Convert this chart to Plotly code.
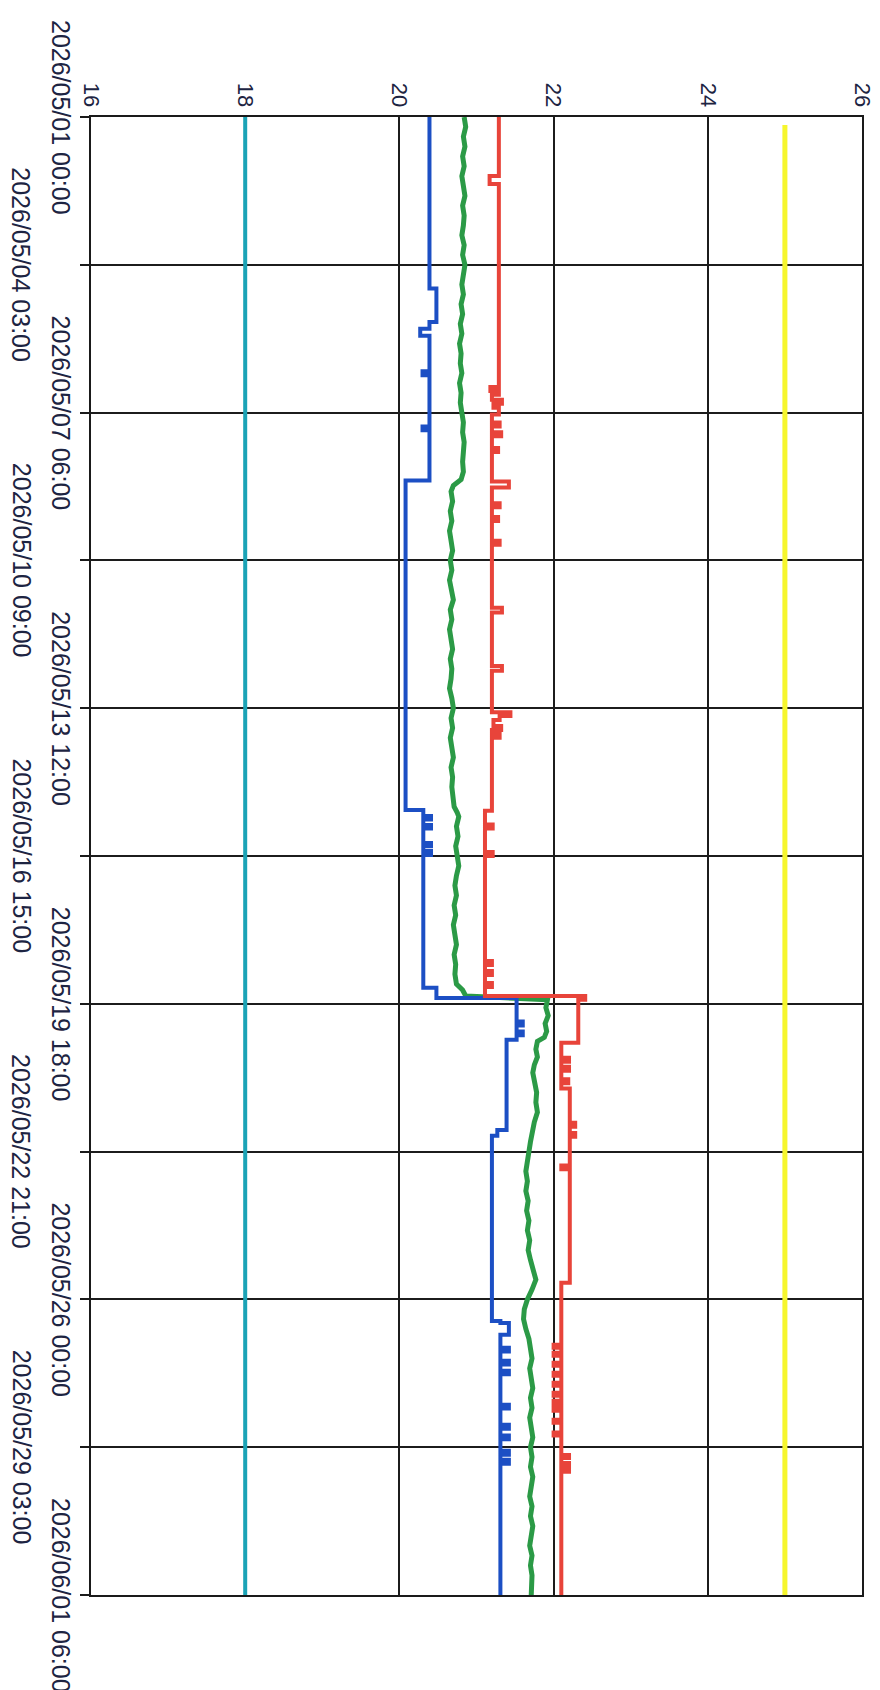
import pandas as pd
import plotly.graph_objects as go

START = "2026-05-01 00:00"

# time axis ticks (hours from start) and their labels
tick_hours = [0, 75, 150, 225, 300, 375, 450, 525, 600, 675, 750]
tick_labels = ["2026/05/01 00:00", "2026/05/04 03:00", "2026/05/07 06:00",
               "2026/05/10 09:00", "2026/05/13 12:00", "2026/05/16 15:00",
               "2026/05/19 18:00", "2026/05/22 21:00", "2026/05/26 00:00",
               "2026/05/29 03:00", "2026/06/01 06:00"]
value_ticks = [16, 18, 20, 22, 24, 26]

# constant series
cyan_h = [0, 750]
cyan_v = [18.0, 18.0]
yellow_h = [4, 750]
yellow_v = [25.0, 25.0]

# blue (stepped)
blue_h = [0, 87, 104, 107.5, 111, 129, 131, 157, 159, 184.4, 351.7, 354.7, 356.5,
          359.3, 361, 368.4, 370, 372.5, 374.5, 441.9, 447, 459, 461, 464, 466,
          468.3, 514, 517, 610.9, 612, 618, 624.5, 626.5, 631.1, 633, 636.2, 638,
          653.4, 655.4, 663.6, 665.6, 669.1, 671, 676.8, 678.8, 681.4, 683.4, 750]
blue_v = [20.39, 20.48, 20.39, 20.27, 20.39, 20.30, 20.39, 20.30, 20.39, 20.08,
          20.31, 20.41, 20.31, 20.41, 20.31, 20.41, 20.31, 20.41, 20.31, 20.48,
          21.52, 21.60, 21.52, 21.60, 21.52, 21.39, 21.27, 21.20, 21.31, 21.42,
          21.31, 21.42, 21.31, 21.42, 21.31, 21.42, 21.31, 21.42, 21.31, 21.42,
          21.31, 21.42, 21.31, 21.42, 21.31, 21.42, 21.31, 21.31]

# red (stepped)
red_h = [0, 30, 34, 137, 139, 141, 143.5, 145.5, 147.5, 151, 155, 157, 160, 162,
         168, 170, 185, 188, 196, 198, 203, 205, 215, 217, 249, 251.5, 278.6, 281,
         302, 304, 306, 309, 311, 313, 315, 352, 359, 361, 373, 375, 428.3, 430.3,
         433.4, 435.4, 439.5, 441.5, 446, 448, 469.8, 477.4, 479.4, 482, 484,
         488.3, 490.3, 493, 510.4, 512.4, 515.5, 517.5, 532, 534, 591.5,
         623.0, 624.5, 627.1, 628.6, 632.2, 633.7, 637.2, 638.7, 642.3, 643.8,
         647.4, 648.9, 651.4, 652.9, 655.0, 656.5, 661.1, 662.6, 667.6, 669.1,
         679, 680.5, 683, 684.5, 686, 687.5, 750]
red_v = [21.29, 21.17, 21.29, 21.18, 21.29, 21.20, 21.33, 21.22, 21.29, 21.20,
         21.30, 21.20, 21.32, 21.20, 21.28, 21.20, 21.42, 21.20, 21.30, 21.20,
         21.28, 21.20, 21.30, 21.20, 21.33, 21.20, 21.33, 21.20, 21.44, 21.30,
         21.22, 21.32, 21.20, 21.30, 21.20, 21.11, 21.21, 21.11, 21.21, 21.11,
         21.20, 21.11, 21.20, 21.11, 21.20, 21.11, 22.41, 22.32, 22.10, 22.20,
         22.10, 22.20, 22.10, 22.19, 22.10, 22.21, 22.28, 22.21, 22.28, 22.21,
         22.10, 22.21, 22.10,
         22.00, 22.10, 22.00, 22.10, 22.00, 22.10, 22.00, 22.10, 22.00, 22.10,
         22.00, 22.10, 22.00, 22.10, 22.00, 22.10, 22.00, 22.10, 22.00, 22.10,
         22.20, 22.10, 22.20, 22.10, 22.20, 22.10, 22.10]

# green (noisy)
green_h = [0, 5, 10, 15, 20, 25, 30, 35, 40, 45, 50, 55, 60, 65, 70, 75, 80, 85,
           90, 95, 100, 105, 110, 115, 120, 125, 130, 135, 140, 145, 150, 155,
           160, 165, 170, 175, 180, 184, 187, 190, 195, 200, 205, 210, 215, 220,
           225, 230, 235, 240, 245, 250, 255, 260, 265, 270, 275, 280, 285, 290,
           295, 300, 305, 310, 315, 320, 325, 330, 335, 340, 345, 350, 353, 355,
           360, 365, 370, 375, 380, 385, 390, 395, 400, 405, 410, 415, 420, 425,
           430, 435, 440, 443, 446, 448, 452, 456, 460, 464, 467, 469, 473, 477,
           481, 485, 490, 495, 500, 505, 510, 515, 520, 525, 530, 535, 540, 545,
           550, 555, 560, 565, 570, 575, 580, 585, 590, 595, 600, 605, 610, 615,
           620, 625, 630, 635, 640, 645, 650, 655, 660, 665, 670, 675, 680, 685,
           690, 695, 700, 705, 710, 715, 720, 725, 730, 735, 740, 745, 750]
green_v = [20.84, 20.86, 20.83, 20.85, 20.82, 20.84, 20.81, 20.83, 20.85, 20.82,
           20.84, 20.83, 20.81, 20.84, 20.82, 20.85, 20.83, 20.81, 20.83, 20.80,
           20.82, 20.79, 20.81, 20.78, 20.80, 20.79, 20.81, 20.78, 20.80, 20.79,
           20.81, 20.83, 20.82, 20.84, 20.83, 20.82, 20.83, 20.80, 20.70, 20.67,
           20.69, 20.66, 20.68, 20.65, 20.67, 20.69, 20.66, 20.68, 20.65, 20.67,
           20.70, 20.66, 20.68, 20.65, 20.67, 20.69, 20.66, 20.68, 20.67, 20.65,
           20.68, 20.70, 20.67, 20.69, 20.66, 20.68, 20.70, 20.67, 20.69, 20.68,
           20.70, 20.71, 20.75, 20.77, 20.74, 20.76, 20.73, 20.75, 20.77, 20.74,
           20.72, 20.74, 20.71, 20.73, 20.70, 20.72, 20.74, 20.71, 20.73, 20.72,
           20.74, 20.82, 20.86, 21.92, 21.90, 21.93, 21.89, 21.91, 21.88, 21.79,
           21.77, 21.79, 21.75, 21.73, 21.76, 21.78, 21.77, 21.79, 21.75, 21.72,
           21.70, 21.68, 21.66, 21.64, 21.66, 21.64, 21.67, 21.65, 21.68, 21.66,
           21.69, 21.67, 21.70, 21.74, 21.77, 21.72, 21.66, 21.62, 21.61, 21.64,
           21.68, 21.70, 21.72, 21.69, 21.71, 21.73, 21.70, 21.72, 21.69, 21.71,
           21.73, 21.70, 21.72, 21.70, 21.73, 21.71, 21.69, 21.72, 21.70, 21.73,
           21.71, 21.69, 21.72, 21.70, 21.72, 21.71, 21.71]


def to_dates(hours):
    return pd.Timestamp(START) + pd.to_timedelta(hours, unit="h")


fig = go.Figure()

series = [
    (cyan_h, cyan_v, "#1ba3b6", 4, "linear"),
    (yellow_h, yellow_v, "#f6f62c", 5, "linear"),
    (green_h, green_v, "#2b9a46", 5, "linear"),
    (blue_h, blue_v, "#1c4fc4", 4, "vh"),
    (red_h, red_v, "#e8443a", 4, "vh"),
]
for h, v, color, w, shape in series:
    fig.add_trace(go.Scatter(x=v, y=to_dates(h), mode="lines",
                             line=dict(color=color, width=w, shape=shape),
                             showlegend=False, hoverinfo="skip"))

tick_dates = list(to_dates(tick_hours))
text_color = "#1d2442"
grid_color = "#1c1c1c"

fig.update_layout(
    width=880, height=1690,
    margin=dict(l=83, r=26, t=109, b=103),
    paper_bgcolor="white", plot_bgcolor="white",
    font=dict(family="Liberation Sans, Arial, sans-serif", color=text_color),
    xaxis=dict(range=[16, 26], side="top", tickvals=value_ticks,
               tickangle=90, tickfont=dict(size=22, color=text_color),
               showgrid=True, gridcolor=grid_color, gridwidth=1.5,
               showline=True, mirror=True, linecolor="#1a1a1a", linewidth=2,
               zeroline=False, ticks="", layer="above traces"),
    yaxis=dict(type="date", range=[tick_dates[-1], tick_dates[0]],
               tickvals=tick_dates, showticklabels=False,
               ticks="outside", ticklen=9, tickwidth=1.5, tickcolor="#1a1a1a",
               showgrid=True, gridcolor=grid_color, gridwidth=1.5,
               showline=True, mirror=True, linecolor="#1a1a1a", linewidth=2,
               zeroline=False, layer="above traces"),
)

for i, (d, lab) in enumerate(zip(tick_dates, tick_labels)):
    xpos = -0.0389 if i % 2 == 0 else -0.0901
    fig.add_annotation(x=xpos, xref="paper", y=d, yref="y", text=lab,
                       textangle=90, showarrow=False, xanchor="center",
                       yanchor="middle", font=dict(size=25, color=text_color))

fig.write_html("out.html")
